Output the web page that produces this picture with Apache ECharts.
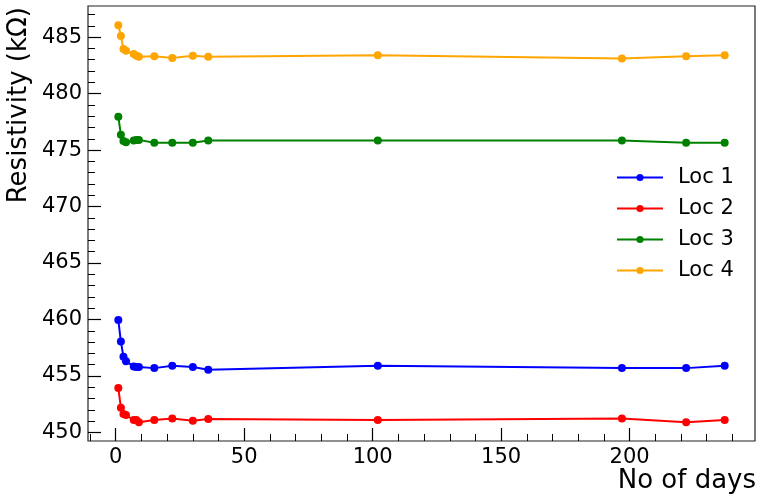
<!DOCTYPE html>
<html>
<head>
<meta charset="utf-8">
<script src="https://cdn.jsdelivr.net/npm/echarts@6/dist/echarts.min.js"></script>
<style>
html,body{margin:0;padding:0;background:#fff;}
#chart{width:763px;height:502px;}
</style>
</head>
<body>
<div id="chart"></div>
<script>
// ---- data ----
const days = [1, 2, 3, 4, 7, 8, 9, 15, 22, 30, 36, 102, 197, 222, 237];
const loc1 = [459.95, 458.05, 456.7, 456.3, 455.85, 455.8, 455.8, 455.7, 455.9, 455.8, 455.55, 455.9, 455.7, 455.7, 455.9];
const loc2 = [453.95, 452.2, 451.65, 451.55, 451.1, 451.1, 450.9, 451.1, 451.25, 451.05, 451.2, 451.1, 451.25, 450.9, 451.1];
const loc3 = [477.95, 476.35, 475.8, 475.7, 475.85, 475.9, 475.9, 475.65, 475.65, 475.65, 475.85, 475.85, 475.85, 475.65, 475.65];
const loc4 = [486.05, 485.1, 483.95, 483.8, 483.5, 483.35, 483.25, 483.3, 483.15, 483.35, 483.25, 483.4, 483.1, 483.3, 483.4];
const seriesNames = ['Loc 1', 'Loc 2', 'Loc 3', 'Loc 4'];
const xMajorTicks = [0, 50, 100, 150, 200];
const xMinorTicks = [-10, 10, 20, 30, 40, 60, 70, 80, 90, 110, 120, 130, 140, 160, 170, 180, 190, 210, 220, 230, 240];
const yMajorTicks = [450, 455, 460, 465, 470, 475, 480, 485];
const yMinorTicks = [451, 452, 453, 454, 456, 457, 458, 459, 461, 462, 463, 464, 466, 467, 468, 469, 471, 472, 473, 474, 476, 477, 478, 479, 481, 482, 483, 484, 486, 487];

const colors = ['#0000ff', '#ff0000', '#008000', '#ffa500'];
const allSeries = [loc1, loc2, loc3, loc4];
const FONT = 'DejaVu Sans';
const X_MIN = -10.8, X_MAX = 248.8, Y_MIN = 449.25, Y_MAX = 487.75;

const chart = echarts.init(document.getElementById('chart'), null, {renderer: 'canvas'});

function xAx(extra) {
  return Object.assign({
    type: 'value', min: X_MIN, max: X_MAX, position: 'bottom',
    splitLine: {show: false},
    axisLine: {show: false, onZero: false},
    axisLabel: {show: false},
    axisTick: {show: false}
  }, extra);
}
function yAx(extra) {
  return Object.assign({
    type: 'value', min: Y_MIN, max: Y_MAX, position: 'left',
    splitLine: {show: false},
    axisLine: {show: false, onZero: false},
    axisLabel: {show: false},
    axisTick: {show: false}
  }, extra);
}

const option = {
  animation: false,
  backgroundColor: '#ffffff',
  grid: {left: 88, right: 8, top: 6, bottom: 61, show: true, borderColor: '#222', borderWidth: 1.2, backgroundColor: 'transparent'},
  xAxis: [
    xAx({
      axisTick: {show: true, inside: true, length: 13, customValues: xMajorTicks, lineStyle: {color: '#000', width: 1.2}},
      axisLabel: {show: true, customValues: xMajorTicks, margin: 6, fontFamily: FONT, fontSize: 21, color: '#000'}
    }),
    xAx({
      axisTick: {show: true, inside: true, length: 7, customValues: xMinorTicks, lineStyle: {color: '#000', width: 1}}
    })
  ],
  yAxis: [
    yAx({
      axisTick: {show: true, inside: true, length: 13, customValues: yMajorTicks, lineStyle: {color: '#000', width: 1.2}},
      axisLabel: {show: true, customValues: yMajorTicks, margin: 6, fontFamily: FONT, fontSize: 21, color: '#000'}
    }),
    yAx({
      axisTick: {show: true, inside: true, length: 7, customValues: yMinorTicks, lineStyle: {color: '#000', width: 1}}
    })
  ],
  legend: {
    orient: 'vertical',
    left: 616,
    top: 166,
    padding: 0,
    itemWidth: 46,
    itemHeight: 9,
    itemGap: 8,
    data: seriesNames,
    textStyle: {fontFamily: FONT, fontSize: 21, color: '#000', lineHeight: 23, padding: [0, 0, 0, 10]}
  },
  series: seriesNames.map((name, i) => ({
    name: name,
    type: 'line',
    xAxisIndex: 0,
    yAxisIndex: 0,
    data: days.map((d, j) => [d, allSeries[i][j]]),
    symbol: 'circle',
    symbolSize: 8,
    color: colors[i],
    lineStyle: {width: 2, color: colors[i]},
    itemStyle: {color: colors[i]},
    z: 2 + i
  })),
  graphic: [
    {
      type: 'text', x: 19, y: 7, rotation: Math.PI / 2,
      style: {text: 'Resistivity (kΩ)', fontFamily: FONT, fontSize: 26, fill: '#000', align: 'right', verticalAlign: 'middle'}
    },
    {
      type: 'text', x: 756, y: 481,
      style: {text: 'No of days', fontFamily: FONT, fontSize: 26, fill: '#000', align: 'right', verticalAlign: 'middle'}
    }
  ]
};
chart.setOption(option);
</script>
</body>
</html>
